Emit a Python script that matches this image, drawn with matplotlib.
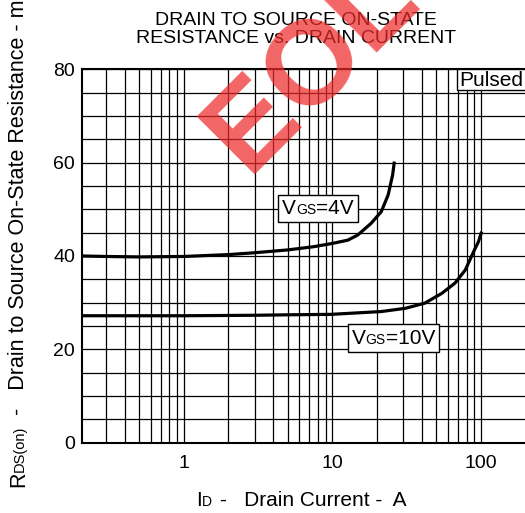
import matplotlib
matplotlib.use("Agg")
import matplotlib.pyplot as plt
from matplotlib.ticker import LogLocator, MultipleLocator, FixedLocator, NullFormatter
from matplotlib.offsetbox import TextArea, HPacker, AnnotationBbox
from matplotlib.patches import Rectangle
from matplotlib.transforms import IdentityTransform

plt.rcParams['font.family'] = ['Liberation Sans', 'DejaVu Sans']

# data
id_4v = [0.21, 0.3, 0.5, 1.0, 2.0, 3.0, 5.0, 7.5, 10.0, 12.7, 14.8, 18.2, 21.3, 23.7, 25.4, 26.0]
rds_4v = [40.0, 39.9, 39.8, 39.9, 40.3, 40.7, 41.3, 42.0, 42.7, 43.4, 44.5, 47.0, 49.5, 53.1, 57.4, 59.9]

id_10v = [0.21, 0.5, 1.0, 3.0, 5.0, 9.8, 21.3, 31.0, 41.8, 54.4, 66.7, 78.2, 90.1, 96.0, 100.0]
rds_10v = [27.2, 27.2, 27.2, 27.3, 27.4, 27.5, 28.1, 28.8, 29.9, 32.0, 34.2, 37.0, 41.3, 43.1, 44.9]

x_ticks = [1, 10, 100]
x_tick_labels = ['1', '10', '100']
y_ticks = [0, 20, 40, 60, 80]

fig = plt.figure(figsize=(5.25, 5.13), dpi=100)
# right part of the grid (200 A and the spine) falls outside the picture, as in the reference
ax = fig.add_axes([82/525, 1-442.7/513, 448/525, 373.4/513])

ax.plot(id_4v, rds_4v, color='black', lw=2.3, zorder=3)
ax.plot(id_10v, rds_10v, color='black', lw=2.3, zorder=3)

ax.set_xscale('log')
ax.set_xlim(0.207, 213)
ax.set_ylim(0, 80)
ax.xaxis.set_major_locator(FixedLocator(x_ticks))
ax.set_xticklabels(x_tick_labels)
ax.xaxis.set_minor_locator(LogLocator(base=10, subs=range(2, 10)))
ax.xaxis.set_minor_formatter(NullFormatter())
ax.set_yticks(y_ticks)
ax.yaxis.set_minor_locator(MultipleLocator(5))
ax.grid(True, which='both', color='black', lw=0.9)
ax.tick_params(which='both', length=0, labelsize=14)
ax.tick_params(axis='x', pad=9)
ax.tick_params(axis='y', pad=5)
for s in ax.spines.values():
    s.set_linewidth(1.5)

# curve labels: big V, small GS on same baseline
def vgs_label(val, xy):
    parts = [TextArea('V', textprops=dict(size=15)),
             TextArea('GS', textprops=dict(size=10)),
             TextArea('=' + val, textprops=dict(size=15))]
    box = HPacker(children=parts, align='baseline', pad=0, sep=0)
    ab = AnnotationBbox(box, xy, frameon=True, pad=0.15, zorder=4,
                        bboxprops=dict(boxstyle='square', lw=1, ec='black', fc='white'))
    ax.add_artist(ab)

vgs_label('4V', (8.0, 50.2))
vgs_label('10V', (25.7, 22.4))

# Pulsed box in the top right corner
y_box = (442.7-90)/373.4
ax.add_patch(Rectangle(((457.3-82)/448, y_box), 0.2, 1 - y_box,
                       transform=ax.transAxes, fc='white', ec='black', lw=1,
                       clip_on=False, zorder=4))
ax.text((459.5-82)/448, (442.7-80)/373.4, 'Pulsed', transform=ax.transAxes,
        fontsize=15, ha='left', va='center', zorder=5)

fig.text(296/525, 1-29.5/513, 'DRAIN TO SOURCE ON-STATE\nRESISTANCE vs. DRAIN CURRENT',
         ha='center', va='center', fontsize=14, linespacing=1.05)

# axis labels built piece by piece so the subscripts keep the baseline
renderer = fig.canvas.get_renderer()

def chain(x0, y0, parts, vertical=False):
    pos = 0
    for s, size, gap in parts:
        pos += gap
        if vertical:
            t = fig.text(x0, y0 + pos, s, transform=IdentityTransform(), fontsize=size,
                         rotation=90, rotation_mode='anchor', ha='left', va='baseline')
            pos += t.get_window_extent(renderer).height
        else:
            t = fig.text(x0 + pos, y0, s, transform=IdentityTransform(), fontsize=size,
                         ha='left', va='baseline')
            pos += t.get_window_extent(renderer).width

chain(24, 513-487, [('R', 15.5, 0), ('DS(on)', 10.5, 0),
                    ('-   Drain to Source On-State Resistance - m\u03a9', 15.5, 10)], vertical=True)
chain(196, 513-506, [('I', 15, 0), ('D', 10, 0), ('-   Drain Current -  A', 15, 8)])

# EOL watermark
fig.text(313/525, 1-66/513, 'EOL', color='#ee2a2a', alpha=0.72, fontsize=86,
         fontweight='bold', rotation=45, ha='center', va='center')

fig.savefig('out.png', dpi=100)
